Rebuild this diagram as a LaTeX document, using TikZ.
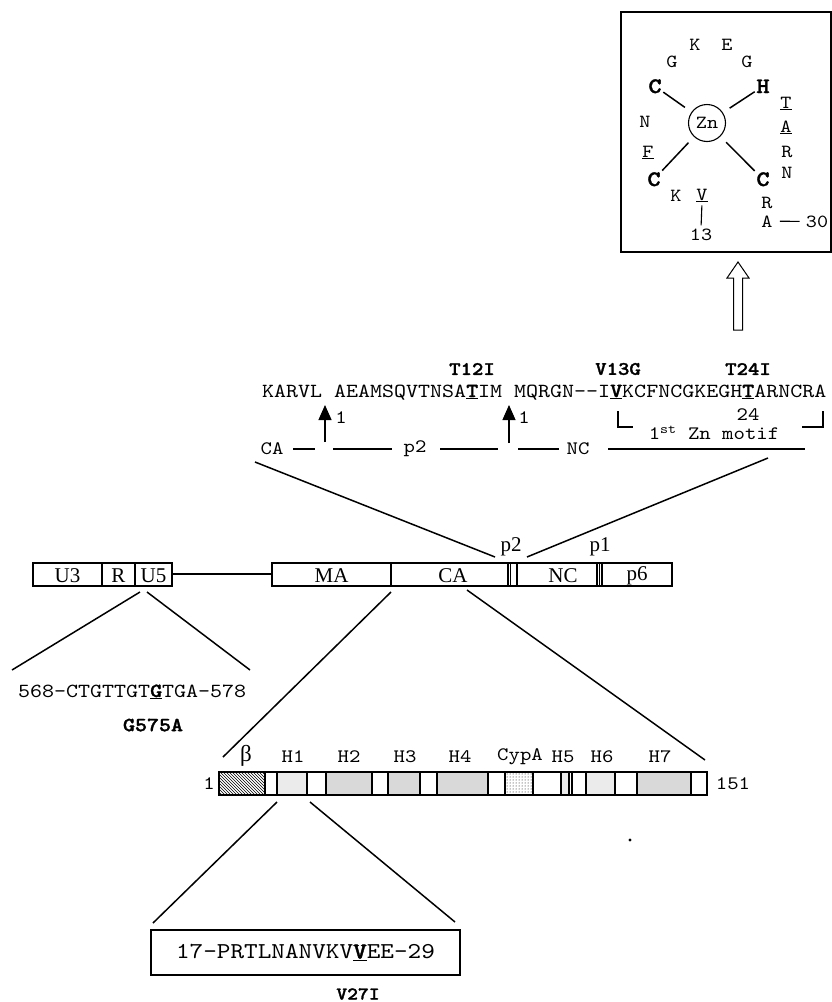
\documentclass[tikz,border=0pt]{standalone}
\usepackage{fontspec}
\newfontfamily\mono{lmmono10-regular.otf}[FakeStretch=1.143, BoldFont=lmmonolt10-bold.otf, BoldFeatures={FakeBold=1.6}]
\newfontfamily\serif{Liberation Serif}
\usetikzlibrary{arrows.meta,patterns}
\newcommand\mut[1]{\underline{\textbf{#1}}}
\newcommand\ulin[1]{\underline{#1}}
\begin{document}
\begin{tikzpicture}[x=1pt,y=-1pt,
  seqtext/.style={font=\mono\fontsize{20}{24}\selectfont, inner sep=0pt},
  bigseq/.style={font=\mono\fontsize{22.7}{26}\selectfont, inner sep=0pt},
  smalltext/.style={font=\mono\fontsize{19}{22}\selectfont, inner sep=0pt},
  boldlab/.style={font=\mono\bfseries\fontsize{19}{22}\selectfont, inner sep=0pt},
  zn/.style={font=\mono\fontsize{18.5}{20}\selectfont, inner sep=0pt, anchor=base},
  znb/.style={font=\mono\bfseries\fontsize{22}{24}\selectfont, inner sep=1.5pt, anchor=base},
  gen/.style={font=\serif\fontsize{21}{24}\selectfont, inner sep=0pt},
  conn/.style={line width=1.5pt},
  thinline/.style={line width=1.1pt},
  boxline/.style={draw, line width=1.3pt},
  helix/.style={fill=black!15},
  lighthelix/.style={fill=black!8},
]
\useasboundingbox (0,0) rectangle (832,1002);

% ---------------- Zn finger box ----------------
\draw[boxline] (621,12) rectangle (831,252);
\node[circle, draw, line width=1.1pt, minimum size=37pt, inner sep=0pt,
      font=\mono\fontsize{18.5}{20}\selectfont] (zn) at (707,123) {Zn};
\node[zn] (zk1) at (695,50) {K};
\node[zn] (ze1) at (727,50) {E};
\node[zn] (zg1) at (672,67) {G};
\node[zn] (zg2) at (747,67) {G};
\node[znb] (zc1) at (655,93) {C};
\node[znb] (zh1) at (763,93) {H};
\node[zn] (zn1) at (645,127) {N};
\node[zn] (zt1) at (786,108) {\ulin{T}};
\node[zn] (za1) at (786,132) {\ulin{A}};
\node[zn] (zr1) at (787,157) {R};
\node[zn] (zn2) at (787,178) {N};
\node[zn] (zf1) at (648,157) {\ulin{F}};
\node[znb] (zc2) at (654,186) {C};
\node[znb] (zc3) at (763,186) {C};
\node[zn] (zk2) at (676,201) {K};
\node[zn] (zv1) at (702,200) {\ulin{V}};
\node[zn] (z13) at (701,240) {13};
\node[zn] (zr2) at (767,208) {R};
\node[zn] (za2) at (767,227) {A};
\node[zn] (z30) at (817,227) {30};
\draw[conn, shorten >=8pt] (zc1) -- (zn);
\draw[conn, shorten >=8pt] (zh1) -- (zn);
\draw[conn, shorten >=8pt] (zc2) -- (zn);
\draw[conn, shorten >=8pt] (zc3) -- (zn);
\draw[thinline, shorten <=3pt, shorten >=3pt] (zv1.south) -- (z13.north);
\draw[thinline, shorten <=7pt, shorten >=6pt] (za2.east) -- (z30.west);

% open block arrow
\draw[line width=1pt] (738,262) -- (749,278) -- (742.5,278) -- (742.5,330)
  -- (733.5,330) -- (733.5,278) -- (727,278) -- cycle;

% ---------------- gag sequence ----------------
\node[boldlab] (t12i) at (472,369) {T12I};
\node[boldlab] (v13g) at (618,369) {V13G};
\node[boldlab] (t24i) at (748,369) {T24I};
\node[seqtext, anchor=base west] (seq) at (262,397)
  {KARVL AEAMSQVTNSA\mut{T}IM MQRGN-{}-I\mut{V}KCFNCGKEGH\mut{T}ARNCRA};

\coordinate (ar1b) at (325,442); \coordinate (ar1t) at (325,405);
\coordinate (ar2b) at (509,443); \coordinate (ar2t) at (509,405);
\draw[line width=1.3pt, -{Triangle[width=13pt,length=15pt]}] (ar1b) -- (ar1t);
\draw[line width=1.1pt, -{Triangle[width=13pt,length=15pt]}] (ar2b) -- (ar2t);
\node[smalltext] (one1) at (341,418) {1};
\node[smalltext] (one2) at (524,418) {1};
\node[smalltext] (n24) at (748,415) {24};

% Zn motif bracket
\draw[thinline] (618,411) -- (618,427) -- (633,427);
\draw[thinline] (802,427) -- (823,427) -- (823,411);
\node[smalltext] (motif) at (714,433) {1\textsuperscript{st} Zn motif};

% cleavage line
\node[smalltext] (lca) at (272,449) {CA};
\node[smalltext] (lp2) at (415,449) {p2};
\node[smalltext] (lnc) at (578,449) {NC};
\draw[thinline] (293,449) -- (315,449);
\draw[thinline] (333,449) -- (392,449);
\draw[thinline] (440,449) -- (498,449);
\draw[thinline] (518,449) -- (559,449);
\draw[thinline] (608,449) -- (805,449);

% ---------------- genome bar ----------------
\draw[thinline] (33,563) rectangle (172,586);
\draw[thinline] (102,563) -- (102,586);
\draw[thinline] (135,563) -- (135,586);
\draw[thinline] (172,574) -- (272,574);
\draw[thinline] (272,563) rectangle (672,586);
\foreach \xx in {391,508,510.5,517,597,599.5,602}
  \draw[thinline] (\xx,563) -- (\xx,586);
\node[gen] (gu3) at (67.5,576) {U3};
\node[gen] (gr) at (118.5,576) {R};
\node[gen] (gu5) at (153.5,576) {U5};
\node[gen] (gma) at (331.5,576) {MA};
\node[gen] (gca) at (453,576) {CA};
\node[gen] (gnc) at (563,576) {NC};
\node[gen] (gp6) at (637,576) {p6};
\node[gen] (gp2) at (511,547) {p2};
\node[gen] (gp1) at (600,547) {p1};

% zoom lines from sequence to genome
\coordinate (zl1a) at (255,462); \coordinate (zl1b) at (495,557);
\coordinate (zl2a) at (768,458); \coordinate (zl2b) at (527,557);
\draw[conn] (zl1a) -- (zl1b);
\draw[conn] (zl2a) -- (zl2b);

% U5 lines and sequence
\coordinate (u5a) at (140,592); \coordinate (u5b) at (12,670);
\coordinate (u5c) at (147,592); \coordinate (u5d) at (250,670);
\draw[conn] (u5a) -- (u5b);
\draw[conn] (u5c) -- (u5d);
\node[seqtext, anchor=base west] (u5seq) at (18,697) {568-CTGTTGT\mut{G}TGA-578};
\node[boldlab, font=\mono\bfseries\fontsize{20}{22}\selectfont] (g575a) at (153,725) {G575A};

% CA lines
\coordinate (caa) at (391,592); \coordinate (cab) at (223,757);
\coordinate (cac) at (467,590); \coordinate (cad) at (705,760);
\draw[conn] (caa) -- (cab);
\draw[conn] (cac) -- (cad);

% ---------------- CA domain bar ----------------
\fill[pattern=north west lines] (219,772) rectangle (265,795);
\fill[lighthelix] (277,772) rectangle (307,795);
\fill[helix] (326,772) rectangle (372,795);
\fill[helix] (388,772) rectangle (420,795);
\fill[helix] (437,772) rectangle (488,795);
\fill[pattern=dots] (505,772) rectangle (533,795);
\fill[lighthelix] (561,772) rectangle (569,795);
\fill[lighthelix] (586,772) rectangle (615,795);
\fill[helix] (637,772) rectangle (691,795);
\draw[line width=1.5pt] (219,772) rectangle (707,795);
\foreach \xx in {265,277,307,326,372,388,420,437,488,505,533,561,569,572,586,615,637,691}
  \draw[thinline] (\xx,772) -- (\xx,795);
\node[font=\serif\fontsize{23}{25}\selectfont, inner sep=0pt] (lbeta) at (246,756) {β};
\node[smalltext] (lh1) at (293,757) {H1};
\node[smalltext] (lh2) at (349,757) {H2};
\node[smalltext] (lh3) at (405,757) {H3};
\node[smalltext] (lh4) at (460,757) {H4};
\node[smalltext] (lcypa) at (520,757) {CypA};
\node[smalltext] (lh5) at (563,757) {H5};
\node[smalltext] (lh6) at (602,757) {H6};
\node[smalltext] (lh7) at (660,757) {H7};
\node[smalltext] (lone) at (209,784) {1};
\node[smalltext] (l151) at (733,784) {151};
\fill (630,840) circle (1.6pt);

% H1 lines
\coordinate (h1a) at (277,802); \coordinate (h1b) at (153,923);
\coordinate (h1c) at (310,802); \coordinate (h1d) at (455,922);
\draw[conn] (h1a) -- (h1b);
\draw[conn] (h1c) -- (h1d);

% bottom box
\node[draw, line width=1.4pt, minimum width=309pt, minimum height=45pt, inner sep=0pt] (bbox) at (305.5,952.5) {};
\node[bigseq] (bseq) at (bbox) {17-PRTLNANVKV\mut{V}EE-29};
\node[boldlab, font=\mono\bfseries\fontsize{18}{20}\selectfont] (v27i) at (358,994) {V27I};
\end{tikzpicture}
\end{document}
